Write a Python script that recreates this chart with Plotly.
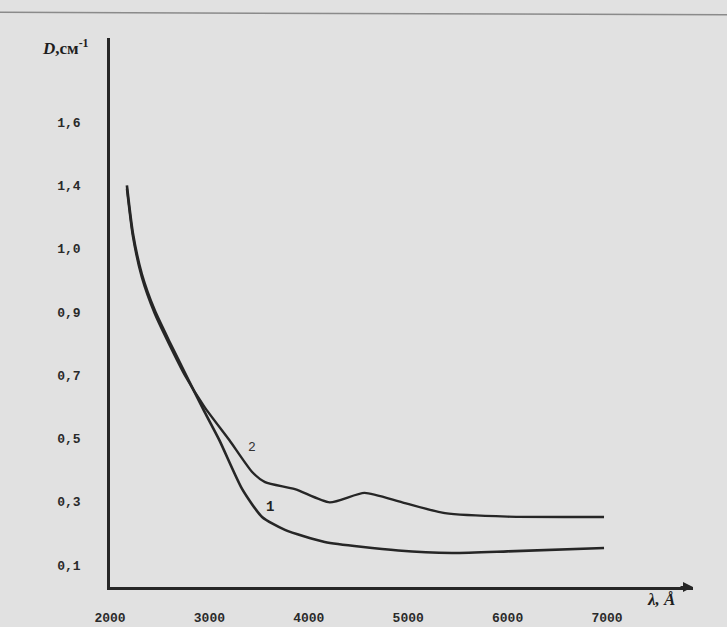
import plotly.graph_objects as go

# Curve 1
x1 = [2170, 2230, 2320, 2450, 2600, 2750, 2950, 3100, 3330, 3530, 3760, 4160, 4900, 5440, 6000, 6970]
y1 = [1.30, 1.15, 1.02, 0.905, 0.805, 0.710, 0.585, 0.495, 0.340, 0.252, 0.211, 0.173, 0.146, 0.138, 0.143, 0.154]
# Curve 2
x2 = [2170, 2230, 2320, 2450, 2600, 2750, 2950, 3200, 3430, 3560, 3860, 4210, 4560, 4940, 5370, 6000, 6970]
y2 = [1.29, 1.14, 1.01, 0.895, 0.795, 0.702, 0.600, 0.495, 0.394, 0.362, 0.340, 0.298, 0.328, 0.298, 0.264, 0.253, 0.252]

x_ticks = [2000, 3000, 4000, 5000, 6000, 7000]
x_ticktext = ["2000", "3000", "4000", "5000", "6000", "7000"]
y_ticks = [0.1, 0.3, 0.5, 0.7, 0.9, 1.1, 1.3, 1.5]
y_ticktext = ["0,1", "0,3", "0,5", "0,7", "0,9", "1,0", "1,4", "1,6"]

ink = "#262626"
bg = "#e1e1e1"
tickfont = dict(family="Liberation Mono", size=13, color="#2a2a2a", weight="bold")

fig = go.Figure()
fig.add_trace(go.Scatter(x=x1, y=y1, mode="lines", line=dict(color=ink, width=2.6, shape="spline", smoothing=0.6),
                         showlegend=False, hoverinfo="skip"))
fig.add_trace(go.Scatter(x=x2, y=y2, mode="lines", line=dict(color=ink, width=2.4, shape="spline", smoothing=0.6),
                         showlegend=False, hoverinfo="skip"))

fig.add_annotation(x=3429, y=0.473, text="2", showarrow=False, font=dict(family="Liberation Mono", size=13, color="#333"))
fig.add_annotation(x=3610, y=0.283, text="<b>1</b>", showarrow=False, font=dict(family="Liberation Mono", size=14, color="#222"))

# axis titles
fig.add_annotation(xref="paper", yref="paper", x=-0.077, y=0.984, xanchor="center", yanchor="middle",
                   text="<b><i>D</i>,см<sup>-1</sup></b>", showarrow=False,
                   font=dict(family="Liberation Serif", size=17, color="#1e1e1e"))
fig.add_annotation(xref="paper", yref="paper", x=0.945, y=-0.022, xanchor="center", yanchor="middle",
                   text="<i>λ, Å</i>", showarrow=False, height=24,
                   font=dict(family="Liberation Serif", size=17, color="#1e1e1e", weight="bold"))
# arrow tip on x axis
fig.add_annotation(xref="paper", yref="paper", x=1.0, y=0.0, ax=-14, ay=0, text="",
                   showarrow=True, arrowhead=2, arrowsize=1, arrowwidth=2, arrowcolor=ink)

fig.update_layout(
    width=727, height=627,
    margin=dict(l=110, r=34, t=38, b=40, autoexpand=False),
    paper_bgcolor=bg, plot_bgcolor=bg,
    font=dict(family="Liberation Mono", size=13, color="#333333"),
    shapes=[dict(type="line", xref="paper", yref="paper", x0=-0.2, x1=1.1, y0=1.047, y1=1.042,
                 line=dict(color="#8a8a8a", width=1.5))],
)
fig.update_xaxes(range=[2000, 7865], tickvals=x_ticks, ticktext=x_ticktext, showgrid=False, zeroline=False,
                 showline=True, linecolor=ink, linewidth=2.5, ticks="", ticklabelstandoff=17,
                 tickfont=tickfont, automargin=False)
fig.update_yaxes(range=[0.0305, 1.766], tickvals=y_ticks, ticktext=y_ticktext, showgrid=False, zeroline=False,
                 showline=True, linecolor=ink, linewidth=2.5, ticks="", ticklabelstandoff=24,
                 tickfont=tickfont, automargin=False)

fig.write_html("out.html")
